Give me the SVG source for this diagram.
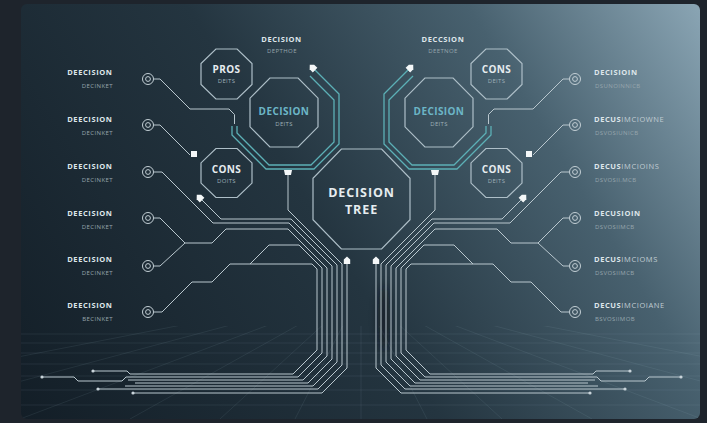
<svg xmlns="http://www.w3.org/2000/svg" width="707" height="423" viewBox="0 0 707 423">
<defs>
<linearGradient id="bg" gradientUnits="userSpaceOnUse" x1="21" y1="419" x2="700" y2="4">
<stop offset="0" stop-color="#131e27"/>
<stop offset="0.45" stop-color="#243540"/>
<stop offset="0.75" stop-color="#48616f"/>
<stop offset="1" stop-color="#8aa5b4"/>
</linearGradient>
<clipPath id="gridclip"><rect x="21" y="326" width="679" height="93" rx="6"/></clipPath>
<filter id="blur" x="-1" y="-1" width="3" height="3"><feGaussianBlur stdDeviation="4"/></filter>
<marker id="arr" viewBox="0 0 8 8" refX="3" refY="4" markerWidth="8" markerHeight="8" markerUnits="userSpaceOnUse" orient="auto-start-reverse">
<path d="M0,0.8 H4.5 L7.6,4 L4.5,7.2 H0 z" fill="#f4f7f8"/>
</marker>
<style>
.oct{fill:none;stroke:#aebfc8;stroke-width:1.2}
.ln{fill:none;stroke:#b9c7ce;stroke-width:1;stroke-linejoin:round}
.tl{fill:none;stroke:#5cb0b6;stroke-width:1.3;stroke-linejoin:round}
.term{fill:none;stroke:#c3cfd5;stroke-width:1}
.dot{fill:#c9d4da}
.wh{fill:#f4f7f8}
text{font-family:"Open Sans","Liberation Sans",sans-serif}
.lab{font-weight:700;font-size:7.5px;fill:#dfe6ea;letter-spacing:0.6px}
.sub{font-size:6px;fill:#97a6ad;letter-spacing:0.4px}
.thin{font-weight:400;fill:#c0ccd2}
.ot{font-weight:700;font-size:10px;fill:#e6ecef;text-anchor:middle;letter-spacing:0.4px}
.os{font-size:6px;fill:#9fb0b8;text-anchor:middle;letter-spacing:0.3px}
.teal{fill:#6cb6c7}
.big{font-size:12.5px;letter-spacing:0.9px}
.grid{stroke:#a8c8d4;stroke-opacity:0.12;stroke-width:0.8;fill:none}
</style>
</defs>

<rect width="707" height="423" fill="#1e242c"/>
<rect x="21" y="4" width="679" height="415" rx="6" fill="url(#bg)"/>

<g clip-path="url(#gridclip)">
<path class="grid" d="M21,334 H700 M21,343 H700 M21,353 H700 M21,364 H700 M21,376 H700 M21,390 H700 M21,405 H700"/>
<path class="grid" d="M361,290 L-300,419 M361,290 L-120,419 M361,290 L20,419 M361,290 L130,419 M361,290 L220,419 M361,290 L295,419 M361,290 L361,419 M361,290 L427,419 M361,290 L502,419 M361,290 L592,419 M361,290 L702,419 M361,290 L842,419 M361,290 L1022,419"/>
</g>
<ellipse cx="384" cy="318" rx="6" ry="34" fill="#0a1116" opacity="0.5" filter="url(#blur)"/>

<g id="connectors">
<g id="conn-left">
<path class="tl" d="M313,68 L339,94 V144 L314,169 H266 L232,135 V126" marker-start="url(#arr)"/>
<path class="tl" d="M310,76 L334,100 V142 L311,165 H269 L237,133 V126"/>
<polygon class="wh" points="284,170 292,170 291,175 285,175"/>
<circle class="term" cx="148" cy="79" r="5.5"/><circle class="term" cx="148" cy="79" r="2.4"/>
<circle class="term" cx="148" cy="125" r="5.5"/><circle class="term" cx="148" cy="125" r="2.4"/>
<circle class="term" cx="148" cy="172" r="5.5"/><circle class="term" cx="148" cy="172" r="2.4"/>
<circle class="term" cx="148" cy="218" r="5.5"/><circle class="term" cx="148" cy="218" r="2.4"/>
<circle class="term" cx="148" cy="266" r="5.5"/><circle class="term" cx="148" cy="266" r="2.4"/>
<circle class="term" cx="148" cy="312" r="5.5"/><circle class="term" cx="148" cy="312" r="2.4"/>
<path class="ln" d="M153.5,79 H160 L190,109 H229 L234.5,114.5 V124"/>
<path class="ln" d="M153.5,125 H160 L190,155"/>
<rect class="wh" x="191" y="151" width="6" height="6"/>
<path class="ln" d="M153.5,172 H162 L213,223 H289 L332,266 V359 L308,383 H135"/>
<path class="ln" d="M200,198 L221,219 H291 L337,265 V362 L313,386 H125" marker-start="url(#arr)"/>
<path class="ln" d="M288,175 V210 L342,264 V365 L318,389 H98"/>
<path class="ln" d="M153.5,218 H160 L185,243 M153.5,266 H160 L185,243"/>
<path class="ln" d="M185,243 H212 L226,229 H288 L327,268 V356 L303,380 H128"/>
<path class="ln" d="M153.5,312 H162 L192,282 H212 L230,264 H250 L269,245 H299 L322,268 V353 L298,377 H126 L122,381 H78 L74,377 H42"/>
<path class="ln" d="M250,264 H312 L317,269 V350 L293,374 H130 L127,371 H93"/>
<path class="ln" d="M347,261 V368 L322,393 H133" marker-start="url(#arr)"/>
<circle class="dot" cx="98" cy="389" r="1.6"/>
<circle class="dot" cx="42" cy="377" r="1.6"/>
<circle class="dot" cx="93" cy="371" r="1.6"/>
<circle class="dot" cx="133" cy="393" r="1.6"/>
</g>
<use href="#conn-left" transform="matrix(-1 0 0 1 723 0)"/>
</g>

<g id="node-pros">
<polygon class="oct" points="215.9,49 237.1,49 252,63.6 252,84.4 237.1,99 215.9,99 201,84.4 201,63.6"/>
<text class="ot" x="226.5" y="73">PROS</text>
<text class="os" x="226.5" y="83">DEITS</text>
</g>
<g id="node-decision-left">
<polygon class="oct" points="269.9,78 298.1,78 318,98.2 318,126.8 298.1,147 269.9,147 250,126.8 250,98.2"/>
<text class="ot teal" x="284" y="115">DECISION</text>
<text class="os" x="284" y="126">DEITS</text>
</g>
<g id="node-cons-left">
<polygon class="oct" points="215.9,148.5 237.1,148.5 252,162.9 252,183.1 237.1,197.5 215.9,197.5 201,183.1 201,162.9"/>
<text class="ot" x="226.5" y="173">CONS</text>
<text class="os" x="226.5" y="183">DOITS</text>
</g>
<g id="node-tree">
<polygon class="oct" points="341.4,149 381.6,149 410,178.3 410,219.7 381.6,249 341.4,249 313,219.7 313,178.3"/>
<text class="ot big" x="361.5" y="197">DECISION</text>
<text class="ot big" x="361.5" y="214">TREE</text>
</g>
<g id="node-decision-right">
<polygon class="oct" points="424.9,78 453.1,78 473,98.2 473,126.8 453.1,147 424.9,147 405,126.8 405,98.2"/>
<text class="ot teal" x="439" y="115">DECISION</text>
<text class="os" x="439" y="126">DEITS</text>
</g>
<g id="node-cons-right-top">
<polygon class="oct" points="485.9,49 507.1,49 522,63.6 522,84.4 507.1,99 485.9,99 471,84.4 471,63.6"/>
<text class="ot" x="496.5" y="73">CONS</text>
<text class="os" x="496.5" y="83">DEITS</text>
</g>
<g id="node-cons-right-bottom">
<polygon class="oct" points="485.9,148.5 507.1,148.5 522,162.9 522,183.1 507.1,197.5 485.9,197.5 471,183.1 471,162.9"/>
<text class="ot" x="496.5" y="173">CONS</text>
<text class="os" x="496.5" y="183">DEITS</text>
</g>

<g id="label-top-left">
<text class="lab" x="281.5" y="42" text-anchor="middle">DECISION</text>
<text class="sub" x="282" y="53" text-anchor="middle">DEPTHOE</text>
</g>
<g id="label-top-right">
<text class="lab" x="443" y="42" text-anchor="middle">DECCSION</text>
<text class="sub" x="443" y="53" text-anchor="middle">DEETNOE</text>
</g>

<g id="label-left-1"><text class="lab" x="112.5" y="75" text-anchor="end">DEECISION</text><text class="sub" x="113" y="87.5" text-anchor="end">DECINKET</text></g>
<g id="label-left-2"><text class="lab" x="112.5" y="122" text-anchor="end">DEECISION</text><text class="sub" x="113" y="134.5" text-anchor="end">DECINKET</text></g>
<g id="label-left-3"><text class="lab" x="112.5" y="169" text-anchor="end">DEECISION</text><text class="sub" x="113" y="181.5" text-anchor="end">DECINKET</text></g>
<g id="label-left-4"><text class="lab" x="112.5" y="216" text-anchor="end">DEECISION</text><text class="sub" x="113" y="228.5" text-anchor="end">DECINKET</text></g>
<g id="label-left-5"><text class="lab" x="112.5" y="262" text-anchor="end">DEECISION</text><text class="sub" x="113" y="274.5" text-anchor="end">DECINKET</text></g>
<g id="label-left-6"><text class="lab" x="112.5" y="308" text-anchor="end">DEECISION</text><text class="sub" x="113" y="320.5" text-anchor="end">BECINKET</text></g>

<g id="label-right-1"><text class="lab" x="594" y="75">DECISIOIN</text><text class="sub" x="595" y="87.5">DSUNOINNICB</text></g>
<g id="label-right-2"><text class="lab" x="594" y="122">DECUS<tspan class="thin">IMCIOWNE</tspan></text><text class="sub" x="595" y="134.5">DSVOSIUNICB</text></g>
<g id="label-right-3"><text class="lab" x="594" y="169">DECUS<tspan class="thin">IMCIOINS</tspan></text><text class="sub" x="595" y="181.5">DSVOSII.MCB</text></g>
<g id="label-right-4"><text class="lab" x="594" y="216">DECUSIOIN</text><text class="sub" x="595" y="228.5">DSVOSIIMCB</text></g>
<g id="label-right-5"><text class="lab" x="594" y="262">DECUS<tspan class="thin">IMCIOMS</tspan></text><text class="sub" x="595" y="274.5">DSVOSIIMCB</text></g>
<g id="label-right-6"><text class="lab" x="594" y="308">DECUS<tspan class="thin">IMCIOIANE</tspan></text><text class="sub" x="595" y="320.5">BSVOSIIMOB</text></g>
</svg>
